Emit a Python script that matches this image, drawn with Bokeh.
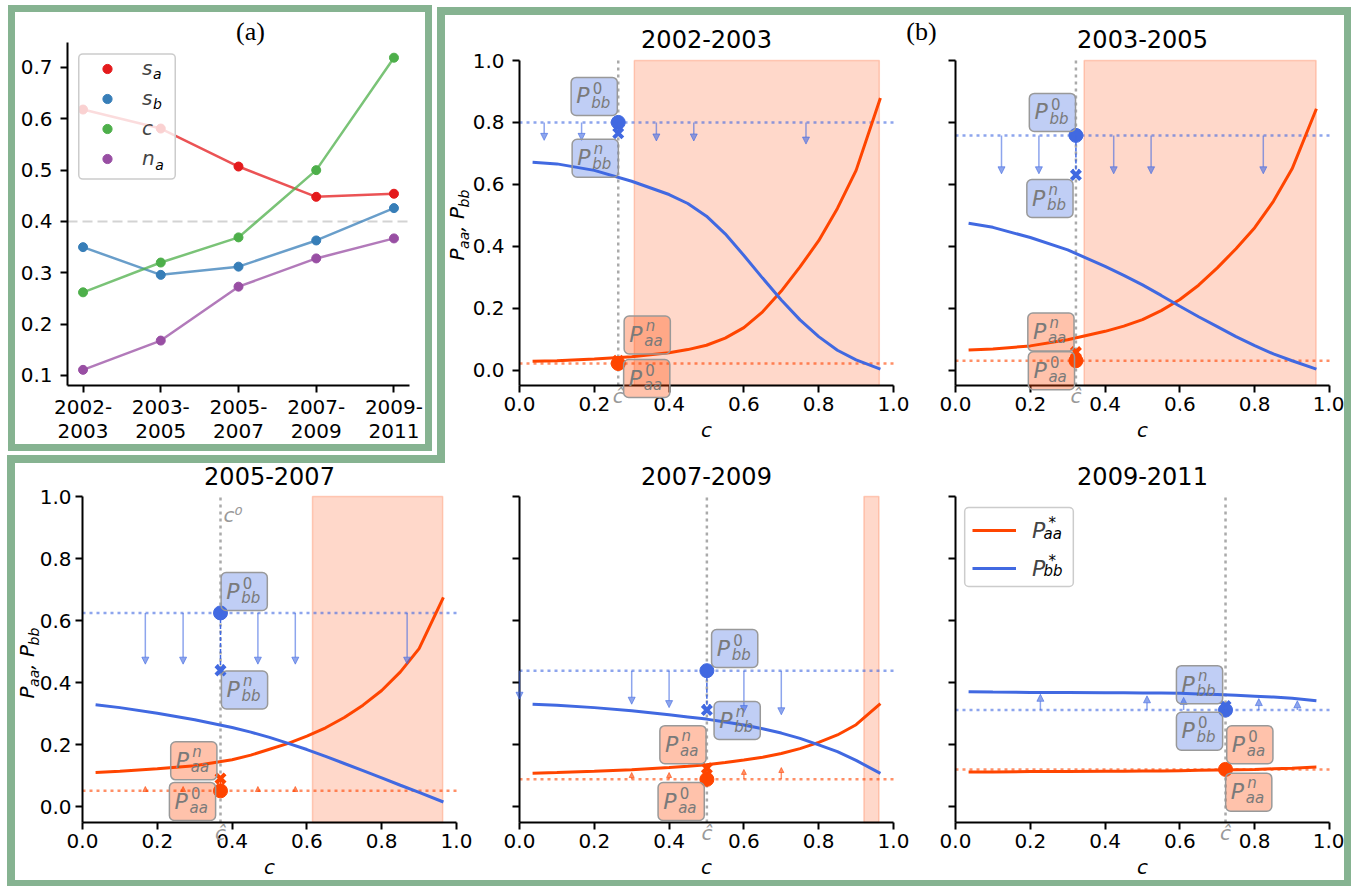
from bokeh.plotting import figure
from bokeh.layouts import row, column
from bokeh.models import (ColumnDataSource, Label, Arrow, NormalHead, OpenHead,
                          Legend, LegendItem, FixedTicker, NumeralTickFormatter,
                          CustomJSTickFormatter, Range1d)
from bokeh.core.properties import value
from bokeh.embed import file_html
from bokeh.resources import INLINE
import math

# ------------------------------------------------------------------ data (a)
periods = ["2002-2003", "2003-2005", "2005-2007", "2007-2009", "2009-2011"]
period_labels = ["2002-\n2003", "2003-\n2005", "2005-\n2007", "2007-\n2009", "2009-\n2011"]
s_a = [0.618, 0.581, 0.507, 0.448, 0.454]
s_b = [0.350, 0.296, 0.312, 0.363, 0.426]
c_frac = [0.262, 0.320, 0.369, 0.500, 0.719]
n_a = [0.111, 0.168, 0.273, 0.328, 0.367]
threshold = 0.4
a_yticks = [0.1, 0.2, 0.3, 0.4, 0.5, 0.6, 0.7]
A_XLIM = (-0.2, 4.2)
A_YLIM = (0.0805, 0.7486)

# ------------------------------------------------------------------ data (b)
B_XLIM = (0.0, 1.0)
B_YLIM = (-0.05, 1.0)
b_ticks = [0.0, 0.2, 0.4, 0.6, 0.8, 1.0]
c_grid = [0.035, 0.1, 0.2, 0.3, 0.4, 0.45, 0.5, 0.55, 0.6, 0.65, 0.7, 0.75, 0.8, 0.85, 0.9, 0.965]
paa_0203 = [0.028, 0.030, 0.036, 0.043, 0.056, 0.066, 0.080, 0.103, 0.137, 0.188, 0.255, 0.333, 0.418, 0.522, 0.645, 0.879]
pbb_0203 = [0.671, 0.666, 0.645, 0.610, 0.567, 0.538, 0.497, 0.440, 0.370, 0.297, 0.226, 0.162, 0.108, 0.064, 0.033, 0.003]
paa_0305 = [0.065, 0.068, 0.078, 0.098, 0.125, 0.142, 0.163, 0.192, 0.228, 0.274, 0.330, 0.392, 0.460, 0.545, 0.650, 0.844]
pbb_0305 = [0.474, 0.461, 0.428, 0.388, 0.335, 0.306, 0.275, 0.241, 0.206, 0.172, 0.140, 0.108, 0.079, 0.052, 0.030, 0.003]
paa_0507 = [0.111, 0.115, 0.123, 0.133, 0.152, 0.167, 0.186, 0.205, 0.228, 0.255, 0.288, 0.328, 0.375, 0.435, 0.510, 0.675]
pbb_0507 = [0.329, 0.320, 0.302, 0.281, 0.256, 0.241, 0.224, 0.205, 0.185, 0.163, 0.140, 0.117, 0.094, 0.070, 0.047, 0.016]
paa_0709 = [0.109, 0.111, 0.115, 0.120, 0.127, 0.131, 0.136, 0.143, 0.151, 0.160, 0.172, 0.188, 0.208, 0.232, 0.265, 0.333]
pbb_0709 = [0.331, 0.328, 0.320, 0.310, 0.297, 0.290, 0.283, 0.274, 0.264, 0.252, 0.238, 0.221, 0.200, 0.178, 0.150, 0.108]
paa_0911 = [0.113, 0.113, 0.114, 0.114, 0.115, 0.115, 0.116, 0.116, 0.117, 0.118, 0.119, 0.120, 0.121, 0.123, 0.125, 0.129]
pbb_0911 = [0.371, 0.370, 0.369, 0.369, 0.368, 0.368, 0.367, 0.367, 0.366, 0.364, 0.362, 0.360, 0.357, 0.354, 0.350, 0.342]
paa_curves = [paa_0203, paa_0305, paa_0507, paa_0709, paa_0911]
pbb_curves = [pbb_0203, pbb_0305, pbb_0507, pbb_0709, pbb_0911]

c_hat = [0.264, 0.322, 0.369, 0.501, 0.722]
p0_bb = [0.800, 0.758, 0.625, 0.439, 0.312]
pn_bb = [0.765, 0.630, 0.440, 0.312, 0.325]
p0_aa = [0.021, 0.030, 0.052, 0.089, 0.121]
pn_aa = [0.030, 0.058, 0.092, 0.125, 0.123]
shade_lo = [0.307, 0.344, 0.615, 0.921, None]
shade_hi = [0.962, 0.964, 0.963, 0.961, None]

bb_arrow_c = [[0.066, 0.166, 0.366, 0.466, 0.766],
              [0.123, 0.223, 0.423, 0.523, 0.823],
              [0.168, 0.269, 0.469, 0.569, 0.868],
              [0.000, 0.300, 0.400, 0.600, 0.700],
              [0.227, 0.512, 0.610, 0.811, 0.914]]
bb_arrow_tip = [[0.742, 0.742, 0.740, 0.740, 0.730],
                [0.634, 0.634, 0.634, 0.634, 0.634],
                [0.460, 0.460, 0.460, 0.460, 0.460],
                [0.347, 0.331, 0.320, 0.304, 0.297],
                [0.363, 0.358, 0.353, 0.349, 0.342]]
aa_arrow_c = [[], [], [0.168, 0.269, 0.469, 0.569], [0.300, 0.400, 0.600, 0.700], []]
aa_arrow_tip = [[], [], [0.066, 0.066, 0.066, 0.066], [0.111, 0.111, 0.121, 0.127], []]

# ------------------------------------------------------------------ style
FONT = "DejaVu Sans"
SERIF = "Liberation Serif"
GREEN = "#86b391"
RED = "orangered"
BLUE = "royalblue"
GREY_TXT = "#7a7a7a"
SET1 = ["#e41a1c", "#377eb8", "#4daf4a", "#984ea3"]
K = 0.36   # baseline compensation (fraction of font size)
NB = "\u00a0"
# box centre offsets (px, up positive) for [P0_bb, Pn_bb, P0_aa, Pn_aa]
box_off = [[(-24, 26), (-23, -25), (28.5, -15), (29, 25.7)],
           [(-23.5, 23), (-26, -23.5), (-24.5, -10), (-25, 20)],
           [(23.7, 21.4), (24, -19.6), (-28, -10.6), (-26.7, 17.6)],
           [(27.8, 22.2), (30.3, -10.4), (-25.7, -22.1), (-23.9, 23.5)],
           [(-26, -21.2), (-26, 21.4), (24.3, 24.7), (23.2, -23.4)]]


def make_fig(W, H, L, T, AW, AH, xlim, ylim, transparent=False):
    """Figure whose frame is the whole canvas; axes are drawn at fixed positions."""
    ux = AW / (xlim[1] - xlim[0])
    uy = AH / (ylim[1] - ylim[0])
    xr = Range1d(xlim[0] - L / ux, xlim[1] + (W - L - AW) / ux)
    yr = Range1d(ylim[0] - (H - T - AH) / uy, ylim[1] + T / uy)
    p = figure(width=W, height=H, x_range=xr, y_range=yr, output_backend="svg",
               toolbar_location=None, min_border=0)
    p.title.visible = False
    if transparent:
        p.border_fill_color = None
        p.background_fill_color = None
    p.xaxis.fixed_location = ylim[0]
    p.xaxis.bounds = xlim
    p.yaxis.fixed_location = xlim[0]
    p.yaxis.bounds = ylim
    for ax in (p.xaxis[0], p.yaxis[0]):
        ax.axis_line_width = 2
        ax.axis_line_color = "black"
        ax.major_tick_line_width = 2
        ax.major_tick_line_color = "black"
        ax.major_tick_out = 7
        ax.major_tick_in = 0
        ax.minor_tick_line_color = None
        ax.major_label_text_font = FONT
        ax.major_label_text_font_size = "20px"
        ax.major_label_text_color = "black"
    p.xaxis[0].major_label_standoff = 4
    p.xgrid.visible = False
    p.ygrid.visible = False
    p.outline_line_color = None
    return p


def txt(p, x, y, xo, yo, text, size, color="black", style="normal", font=FONT,
        align="left", angle=0.0, level="annotation"):
    """Text whose baseline sits yo px above (x, y)."""
    if angle == 0.0:
        yo = yo + K * size
    else:
        xo = xo - K * size
    p.add_layout(Label(x=x, y=y, x_offset=xo, y_offset=yo, text=text, angle=angle,
                       text_font=font, text_font_size=f"{size}px", text_font_style=style,
                       text_color=color, text_align=align, text_baseline="alphabetic",
                       level=level))


def rich(p, x, y, bx, by, pieces, color, angle=0.0, level="annotation"):
    """pieces: (text, size, along, up, style) in px relative to (bx, by)."""
    for text, size, along, up, style in pieces:
        if angle == 0.0:
            xo, yo = bx + along, by + up
        else:
            xo, yo = bx - up, by + along
        txt(p, x, y, xo, yo, text, size, color, style, angle=angle, level=level)


def panel_box(p, x, y, dx, dy, ncols, nlines, size, pad, fill, alpha, line, radius):
    text = "\n".join([NB * ncols] * nlines)
    p.add_layout(Label(x=x, y=y, x_offset=dx, y_offset=dy, text=text,
                       text_font=FONT, text_font_size=f"{size}px", text_align="center",
                       text_baseline="middle", background_fill_color=fill,
                       background_fill_alpha=alpha, border_line_color=line,
                       border_line_width=1.5, border_radius=radius, padding=pad))


def box_label(p, x, y, dx, dy, sup, sub, hue):
    panel_box(p, x, y, dx, dy, 5, 1, 19, 8, hue, 0.33, "#999999", 5)
    sup_style = "normal" if sup == "0" else "italic"
    rich(p, x, y, dx, dy, [("P", 22, -18, -7.5, "italic"),
                           (sup, 15, -1.5, 3.5, sup_style),
                           (sub, 15, -3, -11.5, "italic")], GREY_TXT)


# ------------------------------------------------------------------ panel (a)
pa = make_fig(410, 432, 52, 30, 342, 343, A_XLIM, A_YLIM)
pa.yaxis[0].major_label_standoff = 8
pa.xaxis[0].major_label_standoff = 2
pa.xaxis[0].major_label_text_line_height = 1.04
xs = list(range(len(periods)))
pa.xaxis.ticker = FixedTicker(ticks=xs)
pa.xaxis.major_label_overrides = {i: lab for i, lab in enumerate(period_labels)}
pa.yaxis.ticker = FixedTicker(ticks=a_yticks)
pa.yaxis.formatter = NumeralTickFormatter(format="0.0")
pa.segment(x0=[A_XLIM[0]], x1=[A_XLIM[1]], y0=[threshold], y1=[threshold], line_color="#d3d3d3",
           line_width=2, line_dash="10 5")
items = []
for vals, col, base in [(s_a, SET1[0], "s"), (s_b, SET1[1], "s"), (c_frac, SET1[2], "c"), (n_a, SET1[3], "n")]:
    pa.line(xs, vals, line_color=col, line_width=2.5, line_alpha=0.75)
    r = pa.scatter(xs, vals, size=9, fill_color=col, line_color=col)
    items.append(LegendItem(label=value(base), renderers=[r]))
panel_box(pa, A_XLIM[0], A_YLIM[1], 59.5, -74, 12, 4, 19, 12, "white", 0.8, "#cccccc", 4)
leg_a = Legend(items=items, location=(70, 274), padding=6, spacing=6,
               glyph_width=44, glyph_height=23, label_height=23, label_width=26,
               label_standoff=13, label_text_font=FONT, label_text_font_size="20px",
               label_text_font_style="italic", border_line_color=None,
               background_fill_alpha=0.0)
pa.add_layout(leg_a)
rich(pa, A_XLIM[0], A_YLIM[1], 0, 0, [("a", 14, 85.4, -37, "italic"),
                                      ("b", 14, 85.4, -67, "italic"),
                                      ("a", 14, 87.7, -128, "italic")], "black", level="overlay")
txt(pa, A_XLIM[0], A_YLIM[1], 183, 2, "(a)", 26, font=SERIF, align="center")


# ------------------------------------------------------------------ panels (b)
def make_b(i, W, H, L, T, AH, show_y, ystandoff, ylab=None, transparent=False):
    p = make_fig(W, H, L, T, 374, AH, B_XLIM, B_YLIM, transparent)
    p.yaxis[0].major_label_standoff = ystandoff
    p.xaxis.ticker = FixedTicker(ticks=b_ticks)
    p.yaxis.ticker = FixedTicker(ticks=b_ticks)
    p.xaxis.formatter = NumeralTickFormatter(format="0.0")
    if show_y:
        p.yaxis.formatter = NumeralTickFormatter(format="0.0")
    else:
        p.yaxis.formatter = CustomJSTickFormatter(code="return ''")
    x0, x1 = B_XLIM
    y0, y1 = B_YLIM

    if shade_lo[i] is not None:
        p.quad(left=[shade_lo[i]], right=[shade_hi[i]], bottom=[y0], top=[y1],
               fill_color="coral", fill_alpha=0.3, line_color="coral", line_alpha=0.35,
               line_width=1.5)
    ch = c_hat[i]
    p.segment(x0=[ch], x1=[ch], y0=[y0], y1=[y1], line_color="#aaaaaa",
              line_width=2.5, line_dash="3 4")
    p.segment(x0=[x0], x1=[x1], y0=[p0_bb[i]], y1=[p0_bb[i]], line_color=BLUE, line_alpha=0.6,
              line_width=2.5, line_dash="3 4")
    p.segment(x0=[x0], x1=[x1], y0=[p0_aa[i]], y1=[p0_aa[i]], line_color=RED, line_alpha=0.6,
              line_width=2.5, line_dash="3 4")

    r_aa = p.line(c_grid, paa_curves[i], line_color=RED, line_width=3)
    r_bb = p.line(c_grid, pbb_curves[i], line_color=BLUE, line_width=3)

    # field arrows
    src = ColumnDataSource(dict(x=bb_arrow_c[i], y0=[p0_bb[i]] * len(bb_arrow_c[i]), y1=bb_arrow_tip[i]))
    p.add_layout(Arrow(end=NormalHead(size=7, fill_color=BLUE, fill_alpha=0.6, line_color=BLUE,
                                      line_alpha=0.6, line_width=1),
                       x_start="x", y_start="y0", x_end="x", y_end="y1", source=src,
                       line_color=BLUE, line_alpha=0.6, line_width=1.5))
    if aa_arrow_c[i]:
        src2 = ColumnDataSource(dict(x=aa_arrow_c[i], y0=[p0_aa[i]] * len(aa_arrow_c[i]), y1=aa_arrow_tip[i]))
        p.add_layout(Arrow(end=NormalHead(size=5, fill_color=RED, fill_alpha=0.6, line_color=RED,
                                          line_alpha=0.6, line_width=1),
                           x_start="x", y_start="y0", x_end="x", y_end="y1", source=src2,
                           line_color=RED, line_alpha=0.6, line_width=1.5))
    # P0 -> Pn connectors
    for col, a, b in [(BLUE, p0_bb[i], pn_bb[i]), (RED, p0_aa[i], pn_aa[i])]:
        s = ColumnDataSource(dict(x=[ch], y0=[a], y1=[b]))
        p.add_layout(Arrow(end=OpenHead(size=6, line_color=col, line_width=1.5),
                           x_start="x", y_start="y0", x_end="x", y_end="y1", source=s,
                           line_color=col, line_width=1.5, line_dash="4 2"))
    for col, a, b in [(BLUE, p0_bb[i], pn_bb[i]), (RED, p0_aa[i], pn_aa[i])]:
        p.scatter([ch], [b], marker="x", size=13, line_width=4, line_color=col)
        p.scatter([ch], [a], marker="circle", size=14, fill_color=col, line_color=col)

    # labels
    offs = box_off[i]
    box_label(p, ch, p0_bb[i], offs[0][0], offs[0][1], "0", "bb", BLUE)
    box_label(p, ch, pn_bb[i], offs[1][0], offs[1][1], "n", "bb", BLUE)
    box_label(p, ch, p0_aa[i], offs[2][0], offs[2][1], "0", "aa", RED)
    box_label(p, ch, pn_aa[i], offs[3][0], offs[3][1], "n", "aa", RED)

    txt(p, ch, y0, 0, -18, "\u0109", 20, color="#999999", style="italic", align="center")
    txt(p, (x0 + x1) / 2, y0, 0, -52, "c", 20, style="italic", align="center")
    txt(p, (x0 + x1) / 2, y1, 0, 13 if T > 42 else 12, periods[i], 24, align="center")
    if ylab is not None:
        rich(p, x0, y0, ylab[0], ylab[1],
             [("P", 20, 0, 0, "italic"), ("aa", 14, 11.6, -4.5, "italic"),
              (", P", 20, 28.8, 0, "italic"), ("bb", 14, 53.1, -4.5, "italic")],
             "black", angle=math.pi / 2)
    return p, r_aa, r_bb


f1, _, _ = make_b(0, 493, 440, 74, 45, 325, True, 8, ylab=(-55, 125))
txt(f1, B_XLIM[1], B_YLIM[1], 28, 20, "(b)", 26, font=SERIF, align="center")
f2, _, _ = make_b(1, 406, 440, 17, 45, 325, False, 8)
f3, _, _ = make_b(2, 460, 425, 67, 41, 326, True, 4, ylab=(-48, 124), transparent=True)
txt(f3, c_hat[2], B_YLIM[1], 3, -26, "c\u2070", 20, color="#999999", style="italic")
f4, _, _ = make_b(3, 435, 425, 44, 41, 326, False, 8)
f5, r5a, r5b = make_b(4, 434, 425, 45, 41, 326, False, 8)
panel_box(f5, B_XLIM[0], B_YLIM[1], 63.5, -50.5, 13, 2, 20, 13, "white", 0.8, "#cccccc", 4)
leg_b = Legend(items=[LegendItem(label=value("P"), renderers=[r5a]),
                      LegendItem(label=value("P"), renderers=[r5b])],
               location=(62, 298), padding=7, spacing=10,
               glyph_width=44, glyph_height=28, label_height=28, label_width=30,
               label_standoff=16, label_text_font=FONT, label_text_font_size="22px",
               label_text_font_style="italic", border_line_color=None,
               background_fill_alpha=0.0)
f5.add_layout(leg_b)
rich(f5, B_XLIM[0], B_YLIM[1], 0, 0, [("*", 15, 93, -32, "normal"), ("aa", 15, 88, -43, "italic"),
                                      ("*", 15, 93, -70, "normal"), ("bb", 15, 88, -80, "italic")],
     "black", level="overlay")

# ------------------------------------------------------------------ layout
bd = f"8px solid {GREEN}"
bdr = f"7px solid {GREEN}"
boxA = column(pa, margin=(5, 0, 4, 8), styles={"border": f"7px solid {GREEN}"})
topB = row(f1, f2, margin=(7, 0, 0, 5),
           styles={"border-top": bd, "border-left": bd, "border-right": bdr})
botB = row(f3, f4, f5, margin=(0, 0, 0, 7),
           styles={"border-left": bd, "border-right": bdr, "border-bottom": f"6px solid {GREEN}",
                   "background": f"linear-gradient({GREEN}, {GREEN}) 0 0 / 430px 8px no-repeat"})
root = column(row(boxA, topB), botB)

open("out.html", "w").write(file_html(root, INLINE))
